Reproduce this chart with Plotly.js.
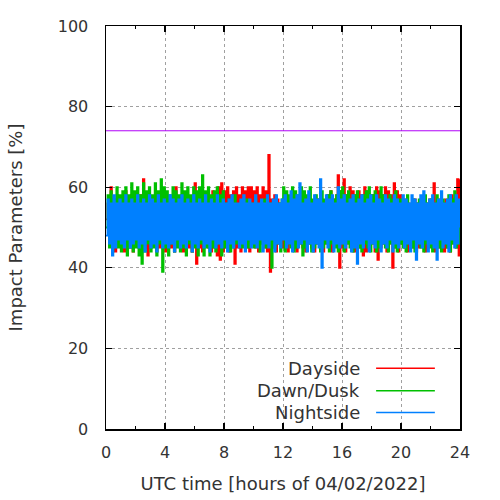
<!DOCTYPE html>
<html>
<head>
<meta charset="utf-8">
<script src="https://cdn.plot.ly/plotly-3.0.1.min.js"></script>
<style>html,body{margin:0;padding:0;background:#fff;}#chart{width:500px;height:500px;}</style>
</head>
<body>
<div id="chart"></div>
<script>
// Series names and colours
const seriesNames = ["Dayside", "Dawn/Dusk", "Nightside"];
const seriesColors = ["#ff0000", "#00c000", "#0080ff"];
// Sampling: one value every 0.1 h (6 min), 0 .. 24 h
const stepHours = 0.1;
const referenceLevel = 74;
const xTicks = [0, 4, 8, 12, 16, 20, 24];
const yTicks = [0, 20, 40, 60, 80, 100];

const dayside = [
 52,56,47,60,46,57,44,58,46,55,
 45,57,44,59,46,56,45,58,44,57,
 46,56,45,58,44,62,45,57,43,56,
 45,57,46,56,44,57,45,56,46,55,
 44,56,46,57,45,56,44,60,46,57,
 45,56,44,57,46,55,45,56,44,57,
 61,41,58,45,59,44,57,46,58,45,
 57,44,59,45,58,43,60,42,61,44,
 59,45,60,44,58,46,59,41,60,45,
 58,44,60,46,59,45,60,44,60,46,
 59,45,60,44,58,46,60,45,59,44,
 68,39,57,45,58,44,57,46,56,45,
 56,45,57,44,56,46,55,45,57,44,
 55,46,57,45,56,44,55,46,57,45,
 56,44,55,46,57,45,56,44,55,46,
 58,45,59,44,57,46,58,63,40,59,
 45,62,44,58,46,60,45,59,44,58,
 46,59,45,58,43,60,44,59,45,58,
 46,58,44,60,42,59,45,58,46,60,
 44,59,46,58,40,61,45,59,44,58,
 46,56,45,57,44,56,46,55,45,57,
 44,56,45,57,46,55,44,56,45,57,
 46,57,61,44,56,45,57,46,56,44,
 57,45,56,44,58,46,57,45,62,43,
 62
];

const dawnDusk = [
 50,58,45,59,44,57,46,60,45,58,
 44,59,46,60,43,58,45,61,44,59,
 45,60,43,58,41,61,44,59,46,60,
 44,58,45,61,43,59,46,62,39,60,
 45,59,43,58,46,60,44,59,45,58,
 44,61,45,59,43,60,46,58,44,60,
 45,59,43,60,46,63,43,59,45,60,
 43,58,45,59,44,60,46,58,43,59,
 45,56,46,57,44,56,45,58,46,55,
 46,55,45,56,47,57,45,55,46,56,
 45,57,46,55,44,56,46,57,45,55,
 46,56,40,55,45,57,46,56,44,57,
 60,44,59,46,58,45,60,44,59,45,
 58,46,60,43,59,45,58,46,60,44,
 57,45,58,46,57,44,59,45,57,46,
 58,44,59,46,57,45,58,44,59,46,
 60,44,58,46,59,45,57,44,58,46,
 59,45,57,44,58,46,59,45,60,44,
 58,46,59,44,57,45,60,46,58,45,
 57,44,58,46,57,45,59,44,57,46,
 57,45,56,44,58,46,55,45,57,44,
 56,46,57,45,55,44,58,46,56,45,
 57,44,56,46,58,45,55,44,57,46,
 56,45,58,44,57,46,59,45,56,46,
 52
];

const nightside = [
 48,57,46,56,43,58,45,56,47,57,
 46,56,45,58,47,56,45,57,46,56,
 47,58,45,56,46,57,44,56,47,58,
 45,57,46,56,44,58,47,56,45,57,
 46,56,45,58,46,57,44,56,47,57,
 45,58,46,56,45,57,47,56,44,58,
 46,56,45,57,47,56,45,58,46,56,
 44,57,47,56,45,58,46,56,45,57,
 47,56,44,57,46,58,45,56,47,56,
 45,57,46,58,44,56,47,57,45,56,
 46,58,45,56,47,57,44,56,46,58,
 45,56,47,57,44,58,46,56,45,57,
 47,58,45,56,46,59,44,57,47,58,
 45,61,46,56,47,57,44,59,46,56,
 44,58,46,57,45,62,40,56,47,58,
 45,57,47,58,44,56,46,60,45,57,
 46,58,45,56,47,57,44,58,45,56,
 41,57,46,58,45,56,47,57,44,58,
 46,56,45,58,47,57,44,56,46,58,
 45,57,47,56,44,58,46,57,45,56,
 47,58,45,57,46,56,44,58,47,57,
 42,56,46,58,45,59,47,56,44,57,
 46,58,45,56,42,57,47,59,45,56,
 46,57,44,58,47,56,45,58,46,57,
 50
];

const seriesValues = [dayside, dawnDusk, nightside];
const hours = dayside.map((_, i) => +(i * stepHours).toFixed(2));

const FONT = "DejaVu Sans, Verdana, sans-serif";
const TXT = "#333333";

const traces = seriesValues.map((vals, k) => ({
  type: "scatter",
  mode: "lines",
  x: hours,
  y: vals,
  name: seriesNames[k],
  line: {color: seriesColors[k], width: 1.8, shape: "hv"},
  showlegend: false,
  hoverinfo: "skip"
}));

// Custom gnuplot-style legend: right-aligned text, sample line on the right
const legendY = [0.151, 0.095, 0.041];
const annotations = seriesNames.map((n, k) => ({
  xref: "paper", yref: "paper", x: 0.722, y: legendY[k],
  xanchor: "right", yanchor: "middle", showarrow: false,
  text: n, font: {family: FONT, size: 18, color: TXT}
}));
const shapes = [
  {type: "line", xref: "paper", x0: 0, x1: 1, yref: "y", y0: referenceLevel, y1: referenceLevel,
   line: {color: "#b000f8", width: 1}, layer: "above"}
].concat(seriesNames.map((n, k) => ({
  type: "line", xref: "paper", yref: "paper", x0: 0.763, x1: 0.929, y0: legendY[k], y1: legendY[k],
  line: {color: seriesColors[k], width: 1.5}
})));

const axisCommon = {
  showline: true, linecolor: "#000", linewidth: 1.5, mirror: "ticks",
  ticks: "inside", ticklen: 6, tickwidth: 1.3, tickcolor: "#000",
  showgrid: true, gridcolor: "#a0a0a0", gridwidth: 1, griddash: "3px,3px",
  zeroline: false, tickfont: {family: FONT, size: 16, color: TXT}
};

const layout = {
  width: 500, height: 500,
  margin: {l: 106, r: 40, t: 26, b: 71},
  paper_bgcolor: "#fff", plot_bgcolor: "#fff",
  showlegend: false,
  xaxis: Object.assign({}, axisCommon, {
    range: [0, 24], tickvals: xTicks, ticklabelstandoff: 8,
    minor: {dtick: 2, ticks: "inside", ticklen: 3, tickcolor: "#000", tickwidth: 1.3, showgrid: false},
    title: {text: "UTC time [hours of 04/02/2022]", font: {family: FONT, size: 18, color: TXT}, standoff: 16}
  }),
  yaxis: Object.assign({}, axisCommon, {
    range: [0, 100], tickvals: yTicks, ticklabelstandoff: 13,
    title: {text: "Impact Parameters [%]", font: {family: FONT, size: 18, color: TXT}, standoff: 30}
  }),
  annotations: annotations,
  shapes: shapes
};

Plotly.newPlot("chart", traces, layout, {staticPlot: true, displayModeBar: false});
</script>
</body>
</html>
